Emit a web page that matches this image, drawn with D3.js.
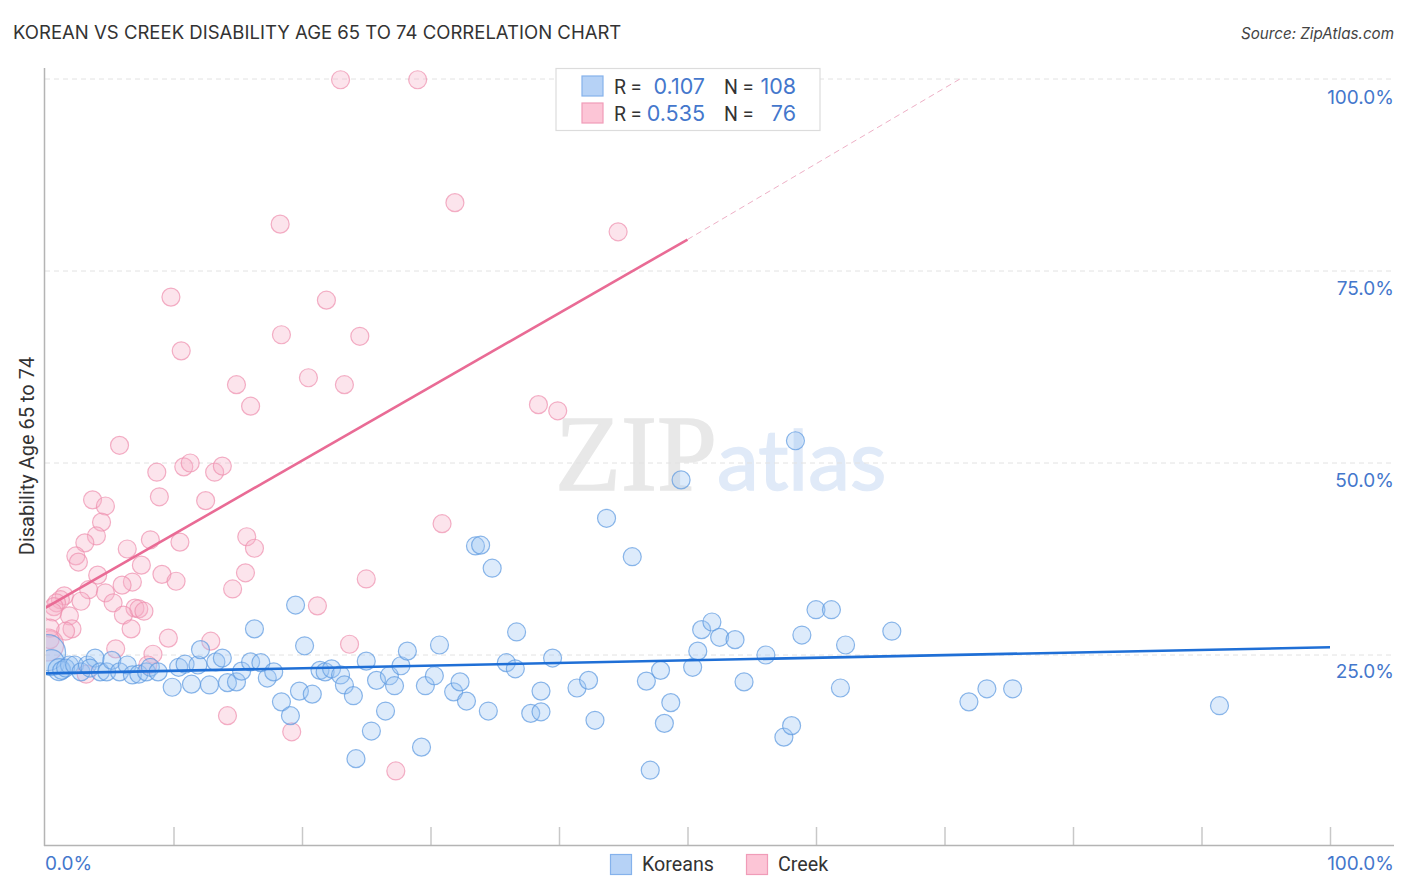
<!DOCTYPE html>
<html>
<head>
<meta charset="utf-8">
<script src="https://cdnjs.cloudflare.com/ajax/libs/d3/7.8.5/d3.min.js"></script>
<style>
  html, body { margin: 0; padding: 0; background: #fff; }
  svg { display: block; font-family: Roboto, sans-serif; }
</style>
</head>
<body>
<svg id="chart" width="1406" height="892"></svg>
<script>
// [x %, y %], optional third value is the circle radius
const koreans = [
  [0.2,25.3,18],[0.5,24.0,13],[1.1,23.1,11],[1.3,23.0],[1.9,23.7],[1.6,23.3],[2.3,23.7],[2.8,22.8],[3.3,23.7],[3.9,24.6],
  [3.5,23.3],[4.3,22.8],[4.8,22.8],[5.2,24.3],[5.8,22.8],[6.4,23.7],[6.8,22.4],[7.3,22.5],[7.9,22.8],[8.2,23.4],
  [8.8,22.8],[9.9,20.8],[10.4,23.4],[10.9,23.8],[11.4,21.2],[11.9,23.7],[12.1,25.7],[12.8,21.1],[13.3,24.1],[13.8,24.6],
  [14.2,21.4],[14.9,21.5],[15.3,22.9],[16.0,24.1],[16.3,28.4],[16.8,24.0],[17.3,22.0],[17.8,22.8],[18.4,18.9],[19.1,17.1],
  [19.5,31.5],[19.8,20.3],[20.2,26.2],[20.8,19.9],[21.4,23.0],[21.8,22.8],[22.3,23.2],[23.0,22.4],[23.3,21.1],[24.0,19.7],
  [24.2,11.5],[25.0,24.2],[25.4,15.1],[25.8,21.7],[26.5,17.7],[26.8,22.3],[27.2,21.0],[27.7,23.6],[28.2,25.5],[29.3,13.0],
  [29.6,21.0],[30.3,22.3],[30.7,26.3],[31.8,20.2],[32.3,21.5],[32.8,19.0],[33.5,39.2],[33.9,39.3],[34.5,17.7],[34.8,36.3],
  [35.9,24.0],[36.6,23.2],[36.7,28.0],[37.8,17.4],[38.6,20.3],[38.6,17.6],[39.5,24.6],[41.4,20.7],[42.3,21.7],[42.8,16.5],
  [43.7,42.8],[45.7,37.8],[46.8,21.6],[47.1,10.0],[47.9,23.0],[48.2,16.1],[48.7,18.8],[49.5,47.8],[50.4,23.4],[50.8,25.5],
  [51.1,28.3],[51.9,29.3],[52.5,27.3],[53.7,27.0],[54.4,21.5],[56.1,25.0],[57.5,14.3],[58.1,15.8],[58.4,52.9],[58.9,27.6],
  [60.0,30.9],[61.2,30.9],[61.9,20.7],[62.3,26.3],[65.9,28.1],[71.9,18.9],[73.3,20.6],[75.3,20.6],[91.4,18.4]
];

const creek = [
  [23.0,99.9],[29.0,99.9],[31.9,83.9],[18.3,81.1],[44.6,80.1],[9.8,71.6],[21.9,71.2],[10.6,64.6],[18.4,66.7],[24.5,66.5],
  [20.5,61.1],[14.9,60.2],[23.3,60.2],[16.0,57.4],[38.4,57.6],[39.9,56.8],[5.8,52.3],[8.7,48.8],[10.8,49.5],[11.3,50.0],
  [13.2,48.8],[13.8,49.6],[8.9,45.6],[12.5,45.1],[3.7,45.2],[4.7,44.4],[4.4,42.3],[30.9,42.1],[4.0,40.5],[3.1,39.6],
  [8.2,40.0],[10.5,39.7],[15.7,40.4],[16.3,38.9],[6.4,38.8],[2.4,37.9],[2.6,37.1],[7.5,36.7],[9.1,35.5],[15.6,35.7],
  [25.0,34.9],[4.1,35.4],[6.8,34.5],[6.0,34.1],[10.2,34.6],[14.6,33.6],[3.4,33.5],[4.7,33.1],[1.5,32.7],[1.2,32.2],
  [0.9,31.8],[0.7,31.3],[2.8,32.0],[5.3,31.8],[21.2,31.4],[7.0,31.1],[7.3,31.0],[7.7,30.7],[6.1,30.2],[1.9,30.1],
  [0.6,30.6],[6.7,28.4],[2.1,28.4],[1.6,28.1],[0.4,28.5],[0.4,27.0],[9.6,27.2],[5.5,25.8],[12.9,26.8],[23.7,26.4],
  [8.4,25.1],[8.0,23.7],[3.2,22.5],[14.2,17.1],[19.2,15.0],[27.3,9.9],[0.2,26.3,16]
];

const blueTrend = [[0, 22.6], [100, 26.0]];
const pinkTrend = [[0, 31.1], [50, 79.1]];
const pinkDashed = [[50, 79.1], [71.2, 100]];

const x = d3.scaleLinear().domain([0, 100]).range([45, 1330]);
const y = d3.scaleLinear().domain([0, 100]).range([847, 79]);
// the right hand labels sit a bit off the grid spacing
const yLabel = d3.scaleLinear().domain([25, 100]).range([678, 104]);

const svg = d3.select("#chart");
const tickBlue = "#4477cc";
const labelFont = "Inter, sans-serif";
const line = d3.line().x(d => x(d[0])).y(d => y(d[1]));

svg.append("defs").append("clipPath").attr("id", "plot")
  .append("rect").attr("x", 46).attr("y", 60).attr("width", 1348).attr("height", 785);

// title and source
svg.append("text").attr("x", 13).attr("y", 39).attr("font-family", labelFont).attr("font-size", 18.55).attr("fill", "#333")
  .text("KOREAN VS CREEK DISABILITY AGE 65 TO 74 CORRELATION CHART");
svg.append("text").attr("x", 1394).attr("y", 39).attr("text-anchor", "end").attr("font-family", labelFont)
  .attr("font-size", 15.2).attr("font-style", "italic").attr("fill", "#444")
  .text("Source: ZipAtlas.com");

// watermark
svg.append("text").attr("x", 555).attr("y", 490).attr("font-family", "'Liberation Serif', serif")
  .attr("font-size", 108).attr("fill", "#e8e8e8").attr("stroke", "#e8e8e8").attr("stroke-width", 1.5).text("ZIP");
svg.append("text").attr("x", 717).attr("y", 490).attr("font-family", "Lato, sans-serif")
  .attr("font-size", 84).attr("fill", "#e0eaf8").attr("stroke", "#e0eaf8").attr("stroke-width", 1.5).text("atlas");

// horizontal grid
svg.append("g").selectAll("line").data([25, 50, 75, 100]).enter().append("line")
  .attr("x1", 45).attr("x2", 1394)
  .attr("y1", d => y(d)).attr("y2", d => y(d))
  .attr("stroke", "#e2e2e2").attr("stroke-dasharray", "5,4");

// axes
const xAxis = d3.axisBottom(x).tickValues(d3.range(10, 101, 10)).tickSize(-18).tickFormat("");
const gx = svg.append("g").attr("transform", "translate(0,845)").call(xAxis);
gx.select(".domain").remove();
gx.selectAll("line").attr("stroke", "#c8c8c8").attr("stroke-width", 1.5);
svg.append("line").attr("x1", 44).attr("x2", 1394).attr("y1", 845.5).attr("y2", 845.5)
  .attr("stroke", "#b4b4b4").attr("stroke-width", 1.5);
svg.append("line").attr("x1", 44.5).attr("x2", 44.5).attr("y1", 68).attr("y2", 846)
  .attr("stroke", "#b4b4b4").attr("stroke-width", 1.5);

// tick labels
svg.append("g").selectAll("text").data([25, 50, 75, 100]).enter().append("text")
  .attr("x", 1394).attr("y", d => yLabel(d)).attr("text-anchor", "end").attr("font-family", labelFont)
  .attr("font-size", 19).attr("fill", tickBlue).text(d => d.toFixed(1) + "%");
svg.append("text").attr("x", 45).attr("y", 870).attr("font-family", labelFont).attr("font-size", 19).attr("fill", tickBlue).text("0.0%");
svg.append("text").attr("x", 1394).attr("y", 870).attr("text-anchor", "end").attr("font-family", labelFont)
  .attr("font-size", 19).attr("fill", tickBlue).text("100.0%");

svg.append("text").attr("transform", "translate(34,456) rotate(-90)").attr("text-anchor", "middle")
  .attr("font-size", 20).attr("fill", "#333").text("Disability Age 65 to 74");

// points
const plot = svg.append("g").attr("clip-path", "url(#plot)");
function dots(data, fill, stroke) {
  plot.append("g").selectAll("circle").data(data).enter().append("circle")
    .attr("cx", d => x(d[0])).attr("cy", d => y(d[1]))
    .attr("r", d => d[2] || 9)
    .attr("fill", fill).attr("fill-opacity", 0.34)
    .attr("stroke", stroke).attr("stroke-opacity", 0.7).attr("stroke-width", 1.2);
}
dots(creek, "#f7afc6", "#ee8fae");
dots(koreans, "#9cc4f2", "#5b98e0");

// trend lines
plot.append("path").attr("d", line(pinkDashed)).attr("fill", "none")
  .attr("stroke", "#eeb0c6").attr("stroke-width", 1).attr("stroke-dasharray", "6,4");
plot.append("path").attr("d", line(pinkTrend)).attr("fill", "none")
  .attr("stroke", "#e96b95").attr("stroke-width", 2.6);
plot.append("path").attr("d", line(blueTrend)).attr("fill", "none")
  .attr("stroke", "#1f6fd6").attr("stroke-width", 2.6);

// legend box
const legend = svg.append("g");
legend.append("rect").attr("x", 556).attr("y", 68.5).attr("width", 264).attr("height", 62)
  .attr("fill", "#fff").attr("stroke", "#dcdcdc").attr("stroke-width", 1.2);
const rows = [
  { r: "0.107", n: "108", c: "#b6d2f6", s: "#85b2ec", y: 94 },
  { r: "0.535", n: "76", c: "#fcc5d6", s: "#f09cb8", y: 121 }
];
rows.forEach(function (d) {
  legend.append("rect").attr("x", 582).attr("y", d.y - 18).attr("width", 21).attr("height", 20)
    .attr("fill", d.c).attr("stroke", d.s).attr("stroke-width", 1.2);
  legend.append("text").attr("x", 614).attr("y", d.y).attr("font-size", 19.5).attr("fill", "#333").text("R =");
  legend.append("text").attr("x", 705).attr("y", d.y).attr("text-anchor", "end").attr("font-family", labelFont).attr("font-size", 21.5).attr("fill", tickBlue).text(d.r);
  legend.append("text").attr("x", 724).attr("y", d.y).attr("font-size", 19.5).attr("fill", "#333").text("N =");
  legend.append("text").attr("x", 796).attr("y", d.y).attr("text-anchor", "end").attr("font-family", labelFont).attr("font-size", 21.5).attr("fill", tickBlue).text(d.n);
});

// bottom legend
[{ x: 610, c: "#b6d2f6", s: "#85b2ec", t: "Koreans" }, { x: 746, c: "#fcc5d6", s: "#f09cb8", t: "Creek" }].forEach(function (d) {
  svg.append("rect").attr("x", d.x + 0.5).attr("y", 854.5).attr("width", 21).attr("height", 20)
    .attr("fill", d.c).attr("stroke", d.s).attr("stroke-width", 1.2);
  svg.append("text").attr("x", d.x + 32).attr("y", 871).attr("font-size", 19.7).attr("fill", "#333").text(d.t);
});
</script>
</body>
</html>
